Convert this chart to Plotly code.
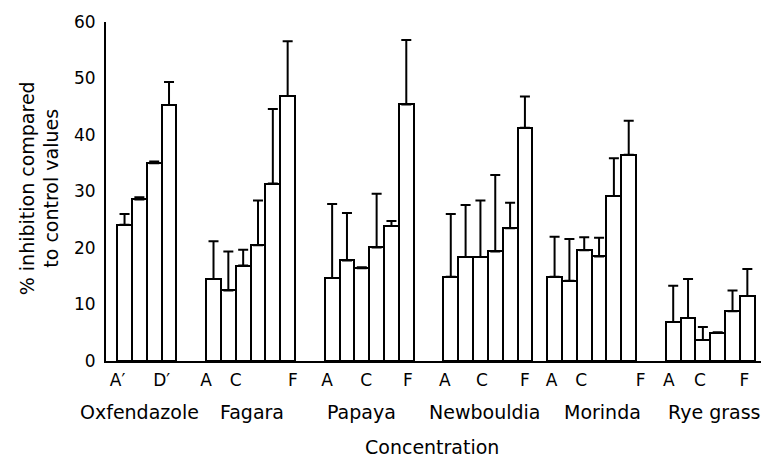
import plotly.graph_objects as go

# ---- data ----
groups = ["Oxfendazole", "Fagara", "Papaya", "Newbouldia", "Morinda", "Rye grass"]
oxfendazole = [24.1, 28.6, 35.0, 45.3]
oxfendazole_err = [1.9, 0.4, 0.3, 4.1]
fagara = [14.5, 12.5, 16.9, 20.5, 31.4, 46.9]
fagara_err = [6.7, 6.9, 2.8, 7.9, 13.2, 9.7]
papaya = [14.7, 17.8, 16.4, 20.1, 23.9, 45.4]
papaya_err = [13.1, 8.4, 0.2, 9.5, 0.9, 11.4]
newbouldia = [14.9, 18.4, 18.4, 19.4, 23.5, 41.3]
newbouldia_err = [11.1, 9.2, 10.0, 13.5, 4.5, 5.5]
morinda = [14.9, 14.2, 19.6, 18.5, 29.2, 36.5]
morinda_err = [7.1, 7.4, 2.3, 3.3, 6.7, 6.0]
rye_grass = [6.9, 7.6, 3.7, 5.0, 8.8, 11.5]
rye_grass_err = [6.4, 6.9, 2.3, 0.1, 3.7, 4.8]

tick_labels = ["A\u2032", "D\u2032", "A", "C", "F", "A", "C", "F", "A", "C", "F",
               "A", "C", "F", "A", "C", "F"]

series = [oxfendazole, fagara, papaya, newbouldia, morinda, rye_grass]
errors = [oxfendazole_err, fagara_err, papaya_err, newbouldia_err, morinda_err, rye_grass_err]

# ---- layout of bar slots ----
group_start = [1, 7, 15, 23, 30, 38]
x, y, e = [], [], []
for start, vals, errs in zip(group_start, series, errors):
    for i, (v, er) in enumerate(zip(vals, errs)):
        x.append(start + i)
        y.append(v)
        e.append(er)

tick_pos = [0.53, 3.5, 6.49, 8.5, 12.36, 14.65, 17.3, 20.1, 22.6, 25.1, 28.0,
            29.8, 31.8, 35.8, 37.7, 39.8, 42.8]
group_label_pos = [2.04, 9.6, 16.95, 25.3, 33.2, 40.75]

FONT = "DejaVu Sans"

fig = go.Figure()
fig.add_trace(go.Bar(
    x=x, y=y, width=1.0,
    marker=dict(color="white", line=dict(color="black", width=2)),
    error_y=dict(type="data", symmetric=False, array=e, arrayminus=[0] * len(e),
                 color="black", thickness=2, width=5),
    showlegend=False,
))

# page body has an 8px margin, so the figure is offset by (8, 8)
fig.update_layout(
    width=761, height=451,
    margin=dict(l=98, r=4, t=10, b=98),
    paper_bgcolor="white", plot_bgcolor="white",
    font=dict(family=FONT, color="black", size=17),
    bargap=0,
    xaxis=dict(range=[-0.25, 44.19], showgrid=False, zeroline=False,
               showline=True, linecolor="black", linewidth=2,
               tickmode="array", tickvals=tick_pos, ticktext=tick_labels,
               ticks="", tickfont=dict(size=17, family=FONT),
               ticklabelstandoff=3, ticklabeloverflow="allow"),
    yaxis=dict(range=[0, 60], showgrid=False, zeroline=False,
               showline=True, linecolor="black", linewidth=2,
               tickmode="array", tickvals=[0, 10, 20, 30, 40, 50, 60],
               ticks="", tickfont=dict(size=17, family=FONT),
               ticklabelstandoff=5, ticklabeloverflow="allow"),
)

for name, pos in zip(groups, group_label_pos):
    fig.add_annotation(x=pos, y=0, xref="x", yref="paper", text=name,
                       showarrow=False, yshift=-51, yanchor="middle",
                       font=dict(size=19, family=FONT))

fig.add_annotation(x=21.73, y=0, xref="x", yref="paper", text="Concentration",
                   showarrow=False, yshift=-86, yanchor="middle",
                   font=dict(size=19, family=FONT))

fig.add_annotation(x=0, y=0.508, xref="paper", yref="paper",
                   text="% inhibition compared<br>to control values",
                   textangle=-90, showarrow=False, xshift=-66.5,
                   xanchor="center", yanchor="middle",
                   font=dict(size=19, family=FONT))

# small end tick at right end of x axis
fig.add_shape(type="line", xref="paper", yref="y", x0=1, x1=1, y0=0, y1=-1,
              line=dict(color="black", width=2))

fig.write_html("out.html")
